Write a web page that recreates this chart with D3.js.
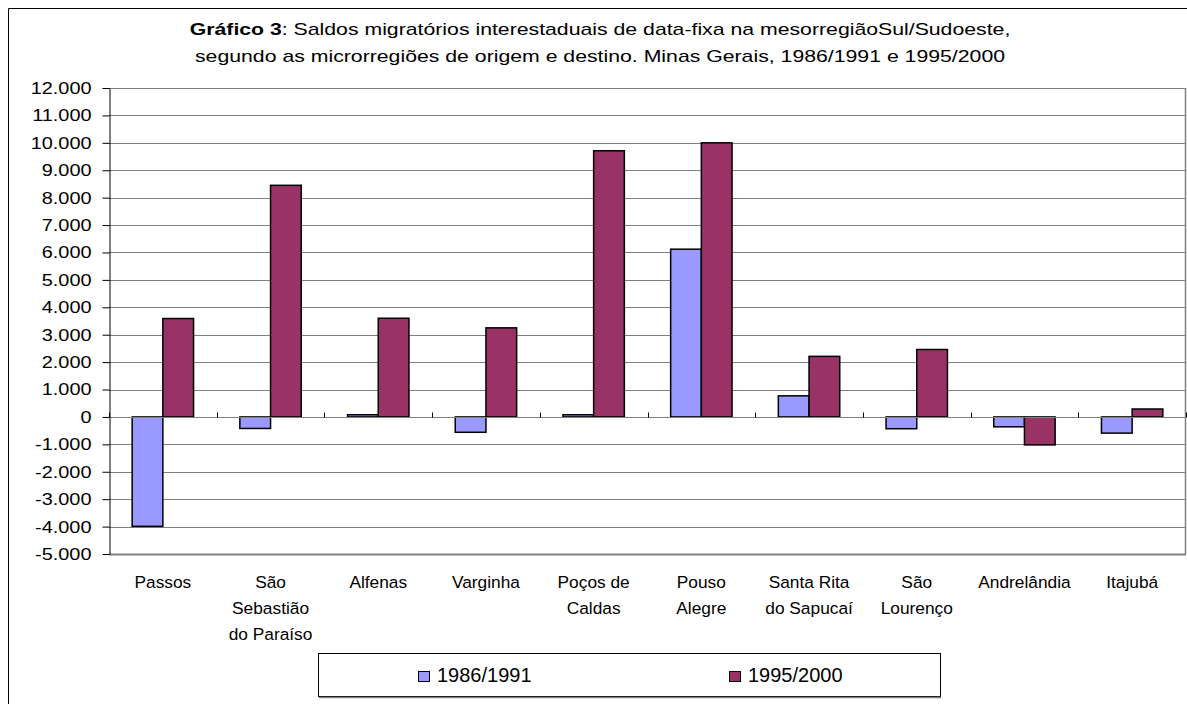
<!DOCTYPE html>
<html>
<head>
<meta charset="utf-8">
<script src="https://cdn.jsdelivr.net/npm/d3@7"></script>
<style>
    body { margin: 0; background: #fff; }
    text { font-family: "Liberation Sans", Arial, sans-serif; fill: #000; }
</style>
</head>
<body>
<div id="chart"></div>
<script>
// Microrregiões (labels wrap over several lines)
const categories = [
    ['Passos'],
    ['São', 'Sebastião', 'do Paraíso'],
    ['Alfenas'],
    ['Varginha'],
    ['Poços de', 'Caldas'],
    ['Pouso', 'Alegre'],
    ['Santa Rita', 'do Sapucaí'],
    ['São', 'Lourenço'],
    ['Andrelândia'],
    ['Itajubá']
];
const seriesNames = ['1986/1991', '1995/2000'];
const values1986 = [-3990, -420, 80, -560, 80, 6120, 770, -430, -360, -590];
const values1995 = [3590, 8450, 3600, 3250, 9710, 10000, 2210, 2460, -1020, 290];
const yTicks = [-5000, -4000, -3000, -2000, -1000, 0, 1000, 2000, 3000, 4000, 5000, 6000, 7000, 8000, 9000, 10000, 11000, 12000];
const colors = ['#9999FF', '#993366'];

const width = 1187, height = 704;
const margin = {left: 109, right: 1, top: 88, bottom: 150};

const ptBR = d3.formatLocale({decimal: ',', thousands: '.', grouping: [3], currency: ['R$', ''], minus: '-'});
const fmt = ptBR.format(',d');

const svg = d3.select('#chart').append('svg')
    .attr('width', width)
    .attr('height', height);

// outer frame (only top and left are visible)
svg.append('path')
    .attr('d', `M8.5,${height} V8.5 H${width}`)
    .attr('fill', 'none')
    .attr('stroke', '#000')
    .attr('stroke-width', 1);

const xScale = d3.scaleBand()
    .domain(d3.range(categories.length))
    .range([margin.left, width - margin.right])
    .paddingInner(0.43)
    .paddingOuter(0.215);

const xSeries = d3.scaleBand()
    .domain([0, 1])
    .range([0, xScale.bandwidth()]);

const yScale = d3.scaleLinear()
    .domain([-5000, 12000])
    .range([554, margin.top]);

const step = xScale.step();
const plotLeft = margin.left, plotRight = margin.left + step * categories.length;

// gridlines
svg.append('g')
    .selectAll('line')
    .data(yTicks)
    .enter()
    .append('line')
    .attr('x1', plotLeft)
    .attr('x2', plotRight)
    .attr('y1', d => Math.round(yScale(d)) + 0.5)
    .attr('y2', d => Math.round(yScale(d)) + 0.5)
    .attr('stroke', '#808080')
    .attr('stroke-width', d => d === -5000 ? 2 : 1);

// right border of plot area
svg.append('line')
    .attr('x1', Math.round(plotRight) - 0.5)
    .attr('x2', Math.round(plotRight) - 0.5)
    .attr('y1', yScale(12000))
    .attr('y2', yScale(-5000))
    .attr('stroke', '#808080')
    .attr('stroke-width', 1.5);

// bars
const bars = svg.append('g');
[values1986, values1995].forEach((vals, s) => {
    bars.selectAll(`rect.s${s}`)
        .data(vals)
        .enter()
        .append('rect')
        .attr('class', `s${s}`)
        .attr('x', (d, i) => xScale(i) + xSeries(s))
        .attr('width', xSeries.bandwidth())
        .attr('y', d => yScale(Math.max(0, d)))
        .attr('height', d => Math.abs(yScale(d) - yScale(0)))
        .attr('fill', colors[s])
        .attr('stroke', '#000')
        .attr('stroke-width', 1.5);
});

// category axis on zero line, ticks pointing up
const zeroY = Math.round(yScale(0)) + 0.5;
svg.append('line')
    .attr('x1', plotLeft).attr('x2', plotRight)
    .attr('y1', zeroY).attr('y2', zeroY)
    .attr('stroke', '#808080');
svg.append('g')
    .selectAll('line')
    .data(d3.range(categories.length + 1))
    .enter()
    .append('line')
    .attr('x1', i => Math.round(plotLeft + i * step) + 0.5)
    .attr('x2', i => Math.round(plotLeft + i * step) + 0.5)
    .attr('y1', zeroY)
    .attr('y2', zeroY - 5)
    .attr('stroke', '#000');

// value axis
const yAxis = d3.axisLeft(yScale)
    .tickValues(yTicks)
    .tickFormat(d => fmt(d))
    .tickSize(7)
    .tickSizeOuter(0);

const gYAxis = svg.append('g')
    .attr('transform', `translate(${plotLeft + 0.5},0)`)
    .call(yAxis);

gYAxis.select('.domain').attr('stroke', '#000');
gYAxis.selectAll('.tick line').attr('stroke', '#000');
gYAxis.selectAll('.tick text')
    .attr('font-size', 17)
    .attr('font-family', '"Liberation Sans", Arial, sans-serif')
    .attr('fill', '#000')
    .attr('x', -18 / 1.17)
    .attr('transform', 'scale(1.17,1)');

// category labels
const labelG = svg.append('g');
categories.forEach((lines, i) => {
    lines.forEach((t, k) => {
        labelG.append('text')
            .attr('transform', `translate(${xScale(i) + xScale.bandwidth() / 2},${588 + k * 26}) scale(1.05,1)`)
            .attr('text-anchor', 'middle')
            .attr('font-size', 16.5)
            .text(t);
    });
});

// title
const title = svg.append('text')
    .attr('transform', 'translate(600,35) scale(1.25,1)')
    .attr('text-anchor', 'middle')
    .attr('font-size', 17);
title.append('tspan').attr('font-weight', 'bold').text('Gráfico 3');
title.append('tspan').text(': Saldos migratórios interestaduais de data-fixa na mesorregiãoSul/Sudoeste,');
svg.append('text')
    .attr('transform', 'translate(600,62) scale(1.25,1)')
    .attr('text-anchor', 'middle')
    .attr('font-size', 17)
    .text('segundo as microrregiões de origem e destino. Minas Gerais, 1986/1991 e 1995/2000');

// legend
const legend = svg.append('g');
legend.append('rect')
    .attr('x', 318.5).attr('y', 653.5)
    .attr('width', 622).attr('height', 43)
    .attr('fill', '#fff')
    .attr('stroke', '#000');
legend.append('line')
    .attr('x1', 319).attr('x2', 941)
    .attr('y1', 697.5).attr('y2', 697.5)
    .attr('stroke', '#808080')
    .attr('stroke-width', 1.5);
const legendX = [418, 729];
seriesNames.forEach((name, s) => {
    legend.append('rect')
        .attr('x', legendX[s] + 0.5).attr('y', 671.5)
        .attr('width', 11).attr('height', 10)
        .attr('fill', colors[s])
        .attr('stroke', '#000');
    legend.append('text')
        .attr('x', legendX[s] + 19)
        .attr('y', 682)
        .attr('font-size', 20)
        .text(name);
});
</script>
</body>
</html>
